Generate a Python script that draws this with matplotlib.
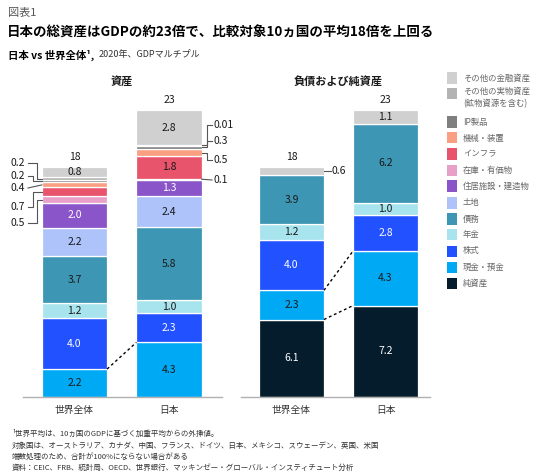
import matplotlib
matplotlib.use("Agg")
import matplotlib.pyplot as plt
from matplotlib.patches import Rectangle

plt.rcParams['font.family'] = ['Noto Sans CJK JP', 'DejaVu Sans']

# ---------------- data ----------------
asset_cats = ['現金・預金', '株式', '年金', '債務', '土地', '住居施設・建造物', '在庫・有価物',
              'インフラ', '機械・装置', 'IP製品', 'その他の実物資産', 'その他の金融資産']
world_assets = [2.2, 4.0, 1.2, 3.7, 2.2, 2.0, 0.5, 0.7, 0.4, 0.2, 0.2, 0.8]
japan_assets = [4.3, 2.3, 1.0, 5.8, 2.4, 1.3, 0.1, 1.8, 0.5, 0.3, 0.01, 2.8]

liab_cats = ['純資産', '現金・預金', '株式', '年金', '債務', 'その他の金融資産']
world_liab = [6.1, 2.3, 4.0, 1.2, 3.9, 0.6]
japan_liab = [7.2, 4.3, 2.8, 1.0, 6.2, 1.1]

totals = [18, 23]
bar_names = ['世界全体', '日本']

legend_order = ['その他の金融資産', 'その他の実物資産', 'IP製品', '機械・装置', 'インフラ', '在庫・有価物',
                '住居施設・建造物', '土地', '債務', '年金', '株式', '現金・預金', '純資産']
legend_text = {'その他の実物資産': 'その他の実物資産\n(鉱物資源を含む)'}

colors = {
    'その他の金融資産': '#d0d0d0', 'その他の実物資産': '#b3b3b3', 'IP製品': '#7f7f7f',
    '機械・装置': '#f9a082', 'インフラ': '#e8546b', '在庫・有価物': '#e8a0c8',
    '住居施設・建造物': '#8a55c8', '土地': '#adc3fa', '債務': '#3c96b4', '年金': '#a8e4ee',
    '株式': '#2251ff', '現金・預金': '#00a9f4', '純資産': '#051c2c',
}
white_text = {'株式', '住居施設・建造物', '純資産'}

W, H = 550, 475
fig = plt.figure(figsize=(W / 100, H / 100), dpi=100)

def fx(x): return x / W
def fy(y): return 1 - y / H

PXU = 12.7
BASE = 397
def yd(p): return (BASE - p) / PXU

YMAX = 24
ax_b = (H - BASE) / H
ax_h = YMAX * PXU / H

def make_ax(x0, x1, xlim):
    ax = fig.add_axes([fx(x0), ax_b, (x1 - x0) / W, ax_h])
    ax.set_xlim(*xlim)
    ax.set_ylim(0, YMAX)
    for s in ['top', 'right', 'left']:
        ax.spines[s].set_visible(False)
    ax.spines['bottom'].set_color('#b0b0b0')
    ax.spines['bottom'].set_linewidth(1)
    ax.set_yticks([])
    ax.set_xticks([0, 1])
    ax.set_xticklabels(bar_names, fontsize=7, color='#333333')
    ax.tick_params(axis='x', length=0, pad=6)
    ax.patch.set_alpha(0)
    return ax

BW = 0.69

def stack(ax, x, cats, vals, inside_min=0.75):
    bottom = 0
    tops = []
    for c, v in zip(cats, vals):
        ax.bar(x, v, BW, bottom=bottom, color=colors[c], edgecolor='white', linewidth=0.9)
        if v >= inside_min:
            ax.text(x, bottom + v / 2, f'{v:.1f}', ha='center', va='center', fontsize=7.5,
                    color='white' if c in white_text else '#1a1a1a')
        bottom += v
        tops.append(bottom)
    return tops

# ---------------- assets panel ----------------
axA = make_ax(23, 222, (-0.545, 1.561))
wA = stack(axA, 0, asset_cats, world_assets)
jA = stack(axA, 1, asset_cats, japan_assets)
axA.text(0, wA[-1] + 0.4, str(totals[0]), ha='center', va='bottom', fontsize=7.5, color='#1a1a1a')
axA.text(1, jA[-1] + 0.4, str(totals[1]), ha='center', va='bottom', fontsize=7.5, color='#1a1a1a')
axA.plot([BW / 2, 1 - BW / 2], [wA[0], jA[0]], ls=(0, (2, 2)), color='black', lw=1)

# external labels with elbow leaders
def px2x_A(p): return -0.545 + (p - 23) / 94.5

lc = '#555555'
# world (left side)
w_ext = {10: 163, 9: 176, 8: 188, 7: 207, 6: 223}
w_elbow = {10: 37, 9: 33, 8: None, 7: 33, 6: 37}
for i, lp in w_ext.items():
    seg_c = wA[i] - world_assets[i] / 2
    ly = yd(lp)
    xe = -BW / 2
    if w_elbow[i] is None:
        axA.plot([px2x_A(28), xe], [ly, seg_c], color=lc, lw=0.8, clip_on=False)
    else:
        ex = px2x_A(w_elbow[i])
        axA.plot([px2x_A(28), ex, ex, xe], [ly, ly, seg_c, seg_c], color=lc, lw=0.8, clip_on=False)
    axA.text(px2x_A(25), ly, f'{world_assets[i]:g}', ha='right', va='center', fontsize=7.5, color='#1a1a1a')

# japan (right side)
j_ext = {10: 125, 9: 141, 8: 160, 6: 180}
j_elbow = {10: 207, 9: 207, 8: 207, 6: None}
for i, lp in j_ext.items():
    seg_c = jA[i] - japan_assets[i] / 2
    ly = yd(lp)
    xs = 1 + BW / 2
    if j_elbow[i] is None:
        axA.plot([xs, px2x_A(212)], [seg_c, ly], color=lc, lw=0.8, clip_on=False)
    else:
        ex = px2x_A(j_elbow[i])
        axA.plot([xs, ex, ex, px2x_A(212)], [seg_c, seg_c, ly, ly], color=lc, lw=0.8, clip_on=False)
    axA.text(px2x_A(214), ly, f'{japan_assets[i]:g}', ha='left', va='center', fontsize=7.5, color='#1a1a1a')

# ---------------- liabilities panel ----------------
axL = make_ax(241, 430, (-0.537, 1.473))
wL = stack(axL, 0, liab_cats, world_liab)
jL = stack(axL, 1, liab_cats, japan_liab)
axL.text(0, wL[-1] + 0.4, str(totals[0]), ha='center', va='bottom', fontsize=7.5, color='#1a1a1a')
axL.text(1, jL[-1] + 0.4, str(totals[1]), ha='center', va='bottom', fontsize=7.5, color='#1a1a1a')
for k in range(2):
    axL.plot([BW / 2, 1 - BW / 2], [wL[k], jL[k]], ls=(0, (2, 2)), color='black', lw=1)
c06 = wL[5] - world_liab[5] / 2
axL.plot([BW / 2, BW / 2 + 0.07], [c06, c06], color=lc, lw=0.8, clip_on=False)
axL.text(BW / 2 + 0.08, c06, f'{world_liab[5]:g}', ha='left', va='center', fontsize=7.5, color='#1a1a1a')

# panel titles
fig.text(fx(122), fy(81), '資産', ha='center', va='center', fontsize=8, fontweight='bold', color='#1a1a1a')
fig.text(fx(338), fy(81), '負債および純資産', ha='center', va='center', fontsize=8, fontweight='bold', color='#1a1a1a')

# ---------------- legend ----------------
leg_y = [78, 93, 122, 138, 154, 170, 186, 203, 219, 235, 251, 267, 283]
for name, y in zip(legend_order, leg_y):
    fig.patches.append(Rectangle((fx(447), fy(y + 5.5)), 10 / W, 11 / H, transform=fig.transFigure,
                                 facecolor=colors[name], edgecolor='none'))
    label = legend_text.get(name, name)
    if '\n' in label:
        fig.text(fx(463), fy(y - 6), label, ha='left', va='top', fontsize=6, color='#666666', linespacing=1.45)
    else:
        fig.text(fx(463), fy(y), label, ha='left', va='center', fontsize=6, color='#666666')

# ---------------- titles ----------------
fig.text(fx(8), fy(13), '図表1', ha='left', va='center', fontsize=8, color='#555555')
fig.text(fx(7), fy(33), '日本の総資産はGDPの約23倍で、比較対象10ヵ国の平均18倍を上回る',
         ha='left', va='center', fontsize=9.7, fontweight='bold', color='#000000')
fig.text(fx(8), fy(55), '日本 vs 世界全体¹,', ha='left', va='center', fontsize=7.5, fontweight='bold', color='#000000')
fig.text(fx(99), fy(55), '2020年、GDPマルチプル', ha='left', va='center', fontsize=6.5, color='#333333')

# ---------------- footnotes ----------------
foot = ['¹世界平均は、10ヵ国のGDPに基づく加重平均からの外挿値。',
        '対象国は、オーストラリア、カナダ、中国、フランス、ドイツ、日本、メキシコ、スウェーデン、英国、米国',
        '端数処理のため、合計が100%にならない場合がある',
        '資料：CEIC、FRB、統計局、OECD、世界銀行、マッキンゼー・グローバル・インスティチュート分析']
for t, y in zip(foot, [434, 446, 457, 468]):
    fig.text(fx(12), fy(y), t, ha='left', va='center', fontsize=5.4, color='#333333')

fig.savefig('out.png', dpi=100)
